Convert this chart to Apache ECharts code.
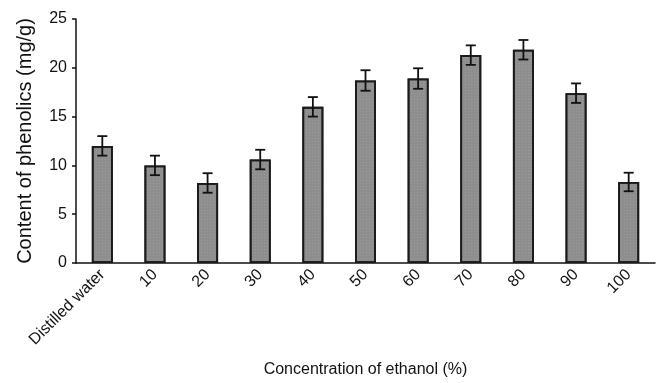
<!DOCTYPE html>
<html><head><meta charset="utf-8">
<script src="https://cdn.jsdelivr.net/npm/echarts@6/dist/echarts.min.js"></script>
<style>html,body{margin:0;padding:0;background:#fff}#c{width:666px;height:383px}</style>
</head><body><div id="c"></div>
<script>
const categories = ['Distilled water','10','20','30','40','50','60','70','80','90','100'];
const values = [12.0, 10.0, 8.2, 10.6, 16.0, 18.7, 18.9, 21.3, 21.85, 17.4, 8.3];
const errors = [1.0, 1.0, 1.0, 1.0, 1.0, 1.05, 1.05, 1.0, 1.0, 1.0, 0.95];
const yTicks = [0, 5, 10, 15, 20, 25];

const FONT = '"Liberation Sans", Arial, sans-serif';
const chart = echarts.init(document.getElementById('c'), null, {renderer:'canvas'});
chart.setOption({
  animation: false,
  backgroundColor: '#fff',
  grid: {left: 76, right: 11, top: 19, bottom: 110},
  xAxis: {
    type: 'category', data: categories, boundaryGap: true,
    name: 'Concentration of ethanol (%)', nameLocation: 'middle', nameGap: 99,
    nameTextStyle: {fontFamily: FONT, fontSize: 16, color: '#111'},
    axisLine: {lineStyle: {color: '#111', width: 1.5}},
    axisTick: {inside: true, length: 5, lineStyle: {color: '#111', width: 1.5}},
    axisLabel: {rotate: 45, fontFamily: FONT, fontSize: 16, color: '#111', margin: 9, interval: 0}
  },
  yAxis: {
    type: 'value', min: yTicks[0], max: yTicks[yTicks.length-1], interval: 5,
    name: 'Content of phenolics (mg/g)', nameLocation: 'middle', nameGap: 41,
    nameTextStyle: {fontFamily: FONT, fontSize: 20, color: '#111'},
    axisLine: {show: true, lineStyle: {color: '#111', width: 1.5}},
    axisTick: {show: true, length: 4, lineStyle: {color: '#111', width: 1.5}},
    axisLabel: {fontFamily: FONT, fontSize: 16, color: '#111', margin: 9},
    splitLine: {show: false}
  },
  series: [
    {
      type: 'bar', data: values, barWidth: 21,
      itemStyle: {color: '#8e8e8e', borderColor: '#1a1a1a', borderWidth: 1.8,
        decal: {symbol: 'rect', symbolSize: 0.6, dashArrayX: [1, 2], dashArrayY: [1, 2], color: 'rgba(225,225,225,0.55)'}}
    },
    {
      type: 'custom', z: 5,
      data: values.map((v, i) => [i, v - errors[i], v + errors[i]]),
      renderItem: function (params, api) {
        const x = api.value(0);
        const lo = api.coord([x, api.value(1)]);
        const hi = api.coord([x, api.value(2)]);
        const hw = 5;
        const st = {stroke: '#111', lineWidth: 1.8};
        return {type: 'group', children: [
          {type: 'line', shape: {x1: lo[0], y1: lo[1], x2: hi[0], y2: hi[1]}, style: st},
          {type: 'line', shape: {x1: hi[0]-hw, y1: hi[1], x2: hi[0]+hw, y2: hi[1]}, style: st},
          {type: 'line', shape: {x1: lo[0]-hw, y1: lo[1], x2: lo[0]+hw, y2: lo[1]}, style: st}
        ]};
      }
    }
  ]
});
</script></body></html>
